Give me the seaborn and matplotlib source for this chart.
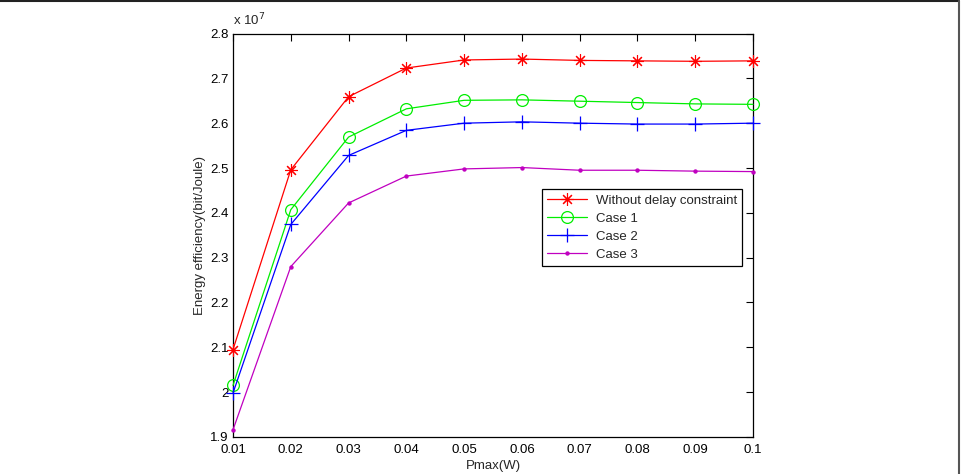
import numpy as np
import pandas as pd
import seaborn as sns
import matplotlib
matplotlib.use("Agg")
import matplotlib.pyplot as plt
from matplotlib.lines import Line2D
from matplotlib.ticker import FuncFormatter

# data (energy efficiency in units of 1e7 bit/Joule)
pmax = [0.01, 0.02, 0.03, 0.04, 0.05, 0.06, 0.07, 0.08, 0.09, 0.10]
no_delay = [2.095, 2.496, 2.659, 2.723, 2.741, 2.743, 2.740, 2.739, 2.738, 2.739]
case1 = [2.015, 2.407, 2.569, 2.632, 2.651, 2.652, 2.649, 2.646, 2.643, 2.642]
case2 = [1.998, 2.374, 2.528, 2.584, 2.600, 2.603, 2.600, 2.598, 2.598, 2.600]
case3 = [1.916, 2.280, 2.422, 2.482, 2.498, 2.501, 2.495, 2.495, 2.493, 2.492]
series_names = ["Without delay constraint", "Case 1", "Case 2", "Case 3"]

df = pd.DataFrame({
    "Pmax": pmax * 4,
    "EE": no_delay + case1 + case2 + case3,
    "series": sum([[n] * len(pmax) for n in series_names], []),
})

sns.set_style("white")
plt.rcParams['font.family'] = ['Liberation Sans', 'DejaVu Sans']

fig = plt.figure(figsize=(9.62, 4.74), dpi=100)
ax = fig.add_axes([0.2422, 0.0781, 0.5406, 0.8512])

styles = {
    "Without delay constraint": dict(color="#ff0000", marker=(8, 2, 0), markersize=9, mew=0.8),
    "Case 1": dict(color="#00ee00", marker="o", markersize=8.5, mfc="none", mew=0.9),
    "Case 2": dict(color="#0000ff", marker="+", markersize=9.5, mew=0.9),
    "Case 3": dict(color="#c000c0", marker=".", markersize=4.5, mew=0.9),
}

for name in series_names:
    st = styles[name]
    sub = df[df["series"] == name]
    sns.lineplot(data=sub, x="Pmax", y="EE", ax=ax, label=name, color=st["color"],
                 marker=st["marker"], markersize=st["markersize"],
                 markerfacecolor=st.get("mfc", st["color"]), markeredgecolor=st["color"],
                 markeredgewidth=st["mew"], linewidth=0.9, clip_on=False, zorder=3)

ax.set_xlim(0.01, 0.1)
ax.set_ylim(1.9, 2.8)
ax.set_xticks(pmax)
ax.set_yticks(np.arange(1.9, 2.81, 0.1))
fmt = FuncFormatter(lambda v, p: ("%.2f" % v).rstrip("0").rstrip(".") if abs(v) > 1e-9 else "0")
ax.xaxis.set_major_formatter(fmt)
ax.yaxis.set_major_formatter(fmt)
ax.tick_params(direction="in", length=5, width=0.8, top=True, right=True,
               labelsize=9.5, colors="black")
ax.tick_params(axis="x", pad=5)
ax.tick_params(axis="y", pad=3)
for s in ax.spines.values():
    s.set_color("black")
    s.set_linewidth(0.9)

ax.set_xlabel("Pmax(W)", fontsize=9.5, labelpad=3)
ax.set_ylabel("Energy efficiency(bit/Joule)", fontsize=9.5, labelpad=3)
ax.text(0.0, 1.012, r"x 10$^{7}$", transform=ax.transAxes, fontsize=9.5, ha="left", va="bottom")

leg = ax.legend(loc="upper right", bbox_to_anchor=(0.9794, 0.6146), fontsize=9.5,
                frameon=True, fancybox=False, edgecolor="black", framealpha=1,
                borderpad=0.4, labelspacing=0.45, handlelength=3.0, handletextpad=0.7,
                borderaxespad=0)
leg.get_frame().set_linewidth(0.9)

# thin page frame on top and right edges
fig.add_artist(Line2D([0, 0.997], [0.998, 0.998], transform=fig.transFigure, color="#222222", lw=1.5))
fig.add_artist(Line2D([0.997, 0.997], [0.0, 0.998], transform=fig.transFigure, color="#555555", lw=1.5))

fig.savefig("out.png", dpi=100, facecolor="white")
